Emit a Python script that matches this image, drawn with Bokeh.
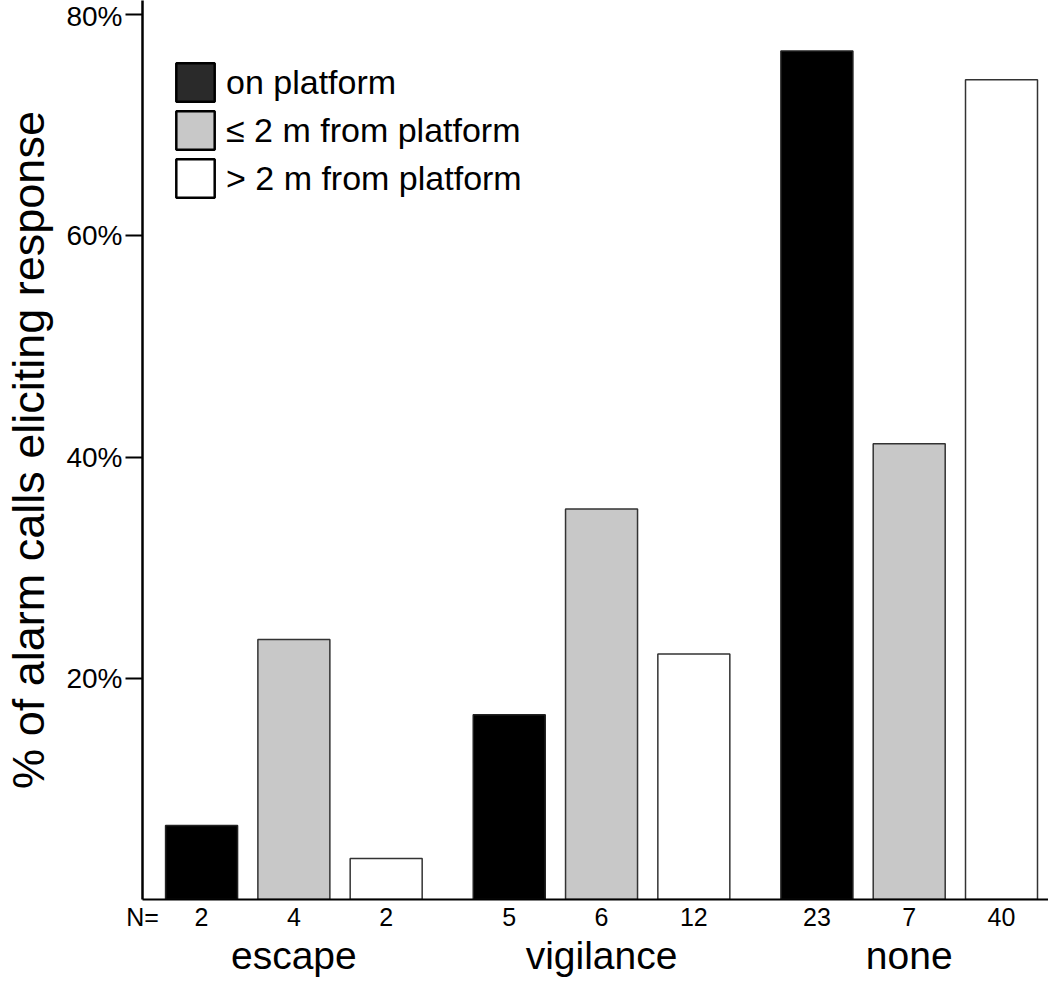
import math
from bokeh.plotting import figure
from bokeh.models import (ColumnDataSource, FixedTicker, Range1d, Legend, LegendItem,
                          LinearAxis, CustomJSTickFormatter)
from bokeh.embed import file_html
from bokeh.resources import INLINE

# ---- data ----
responses = ["escape", "vigilance", "none"]
locations = ["on platform", "\u2264 2 m from platform", "> 2 m from platform"]
on_platform = [6.7, 16.7, 76.7]
near_platform = [23.5, 35.3, 41.2]
far_platform = [3.7, 22.2, 74.1]
n_on = [2, 5, 23]
n_near = [4, 6, 7]
n_far = [2, 12, 40]
y_ticks = [20, 40, 60, 80]
y_tick_labels = ["20%", "40%", "60%", "80%"]
y_title = "% of alarm calls eliciting response"
n_prefix = "N="

# ---- styles ----
FONT = "Liberation Sans"
bar_fills = ["#000000", "#c8c8c8", "#ffffff"]
bar_lines = ["#222222", "#333333", "#333333"]
swatch_fills = ["#2a2a2a", "#c8c8c8", "#ffffff"]

GROUP_STEP = 10 / 3
BAR_W = 0.78
x_start = -0.64
x_end = x_start + 906 / 92.3

p = figure(width=1048, height=979, output_backend="svg", toolbar_location=None,
           x_range=Range1d(x_start, x_end), y_range=Range1d(0, 81.27),
           min_border_left=142, min_border_right=0, min_border_top=0,
           min_border_bottom=80)
p.outline_line_color = None
p.xgrid.visible = False
p.ygrid.visible = False
p.background_fill_color = "white"
p.border_fill_color = "white"

series = [on_platform, near_platform, far_platform]
counts = [n_on, n_near, n_far]
n_x, n_txt = [x_start + 1e-6], [n_prefix]
for s, (vals, ns) in enumerate(zip(series, counts)):
    xs = [g * GROUP_STEP + s for g in range(len(responses))]
    src = ColumnDataSource(dict(x=xs, top=vals))
    p.vbar(x="x", top="top", bottom=0, width=BAR_W, source=src,
           fill_color=bar_fills[s], line_color=bar_lines[s], line_width=1.5)
    n_x += xs
    n_txt += [str(n) for n in ns]

# legend with its own swatch style (renderers hold no visible data)
nan = float("nan")
items = []
for s, lab in enumerate(locations):
    r = p.vbar(x=[nan], top=[nan], width=0.5, fill_color=swatch_fills[s],
               line_color="black", line_width=2.5)
    items.append(LegendItem(label=lab, renderers=[r]))
legend = Legend(items=items, location=(29, 697), padding=0, margin=0, spacing=0,
                glyph_width=48, glyph_height=48, label_height=48, label_standoff=7,
                label_text_font=FONT, label_text_font_size="34px",
                label_text_color="black",
                background_fill_alpha=0, border_line_alpha=0)
p.add_layout(legend)

# y axis
ya = p.yaxis[0]
ya.ticker = FixedTicker(ticks=y_ticks)
ya.major_label_overrides = {t: l for t, l in zip(y_ticks, y_tick_labels)}
ya.major_tick_out = 17
ya.major_tick_in = 0
ya.minor_tick_out = 0
ya.minor_tick_in = 0
ya.major_tick_line_width = 2
ya.major_tick_line_color = "black"
ya.axis_line_width = 2.5
ya.axis_line_color = "black"
ya.major_label_standoff = 3
ya.major_label_text_font = FONT
ya.major_label_text_font_size = "28px"
ya.major_label_text_color = "black"
ya.axis_label = y_title
ya.axis_label_text_font = FONT
ya.axis_label_text_font_size = "45px"
ya.axis_label_text_font_style = "normal"
ya.axis_label_text_color = "black"
ya.axis_label_standoff = 9

fmt_code = """
let best = -1, bd = 1e9;
for (let i = 0; i < pos.length; i++) {
  const d = Math.abs(pos[i] - tick);
  if (d < bd) { bd = d; best = i; }
}
return (best >= 0 && bd < 1e-3) ? labs[best] : "";
"""

# x axis with N labels
xa = p.xaxis[0]
xa.ticker = FixedTicker(ticks=n_x)
xa.formatter = CustomJSTickFormatter(args=dict(pos=n_x, labs=n_txt), code=fmt_code)
xa.major_tick_out = 0
xa.major_tick_in = 0
xa.minor_tick_out = 0
xa.minor_tick_in = 0
xa.axis_line_width = 2
xa.axis_line_color = "black"
xa.major_label_standoff = 3
xa.major_label_text_font = FONT
xa.major_label_text_font_size = "25px"
xa.major_label_text_color = "black"

# category axis
cat_x = [g * GROUP_STEP + 1 for g in range(len(responses))]
ca = LinearAxis(ticker=FixedTicker(ticks=cat_x),
                formatter=CustomJSTickFormatter(args=dict(pos=cat_x, labs=responses),
                                                code=fmt_code))
ca.axis_line_color = None
ca.major_tick_out = 0
ca.major_tick_in = 0
ca.minor_tick_out = 0
ca.minor_tick_in = 0
ca.major_label_standoff = 0
ca.major_label_text_font = FONT
ca.major_label_text_font_size = "39px"
ca.major_label_text_color = "black"
p.add_layout(ca, "below")

open("out.html", "w").write(file_html(p, INLINE))
